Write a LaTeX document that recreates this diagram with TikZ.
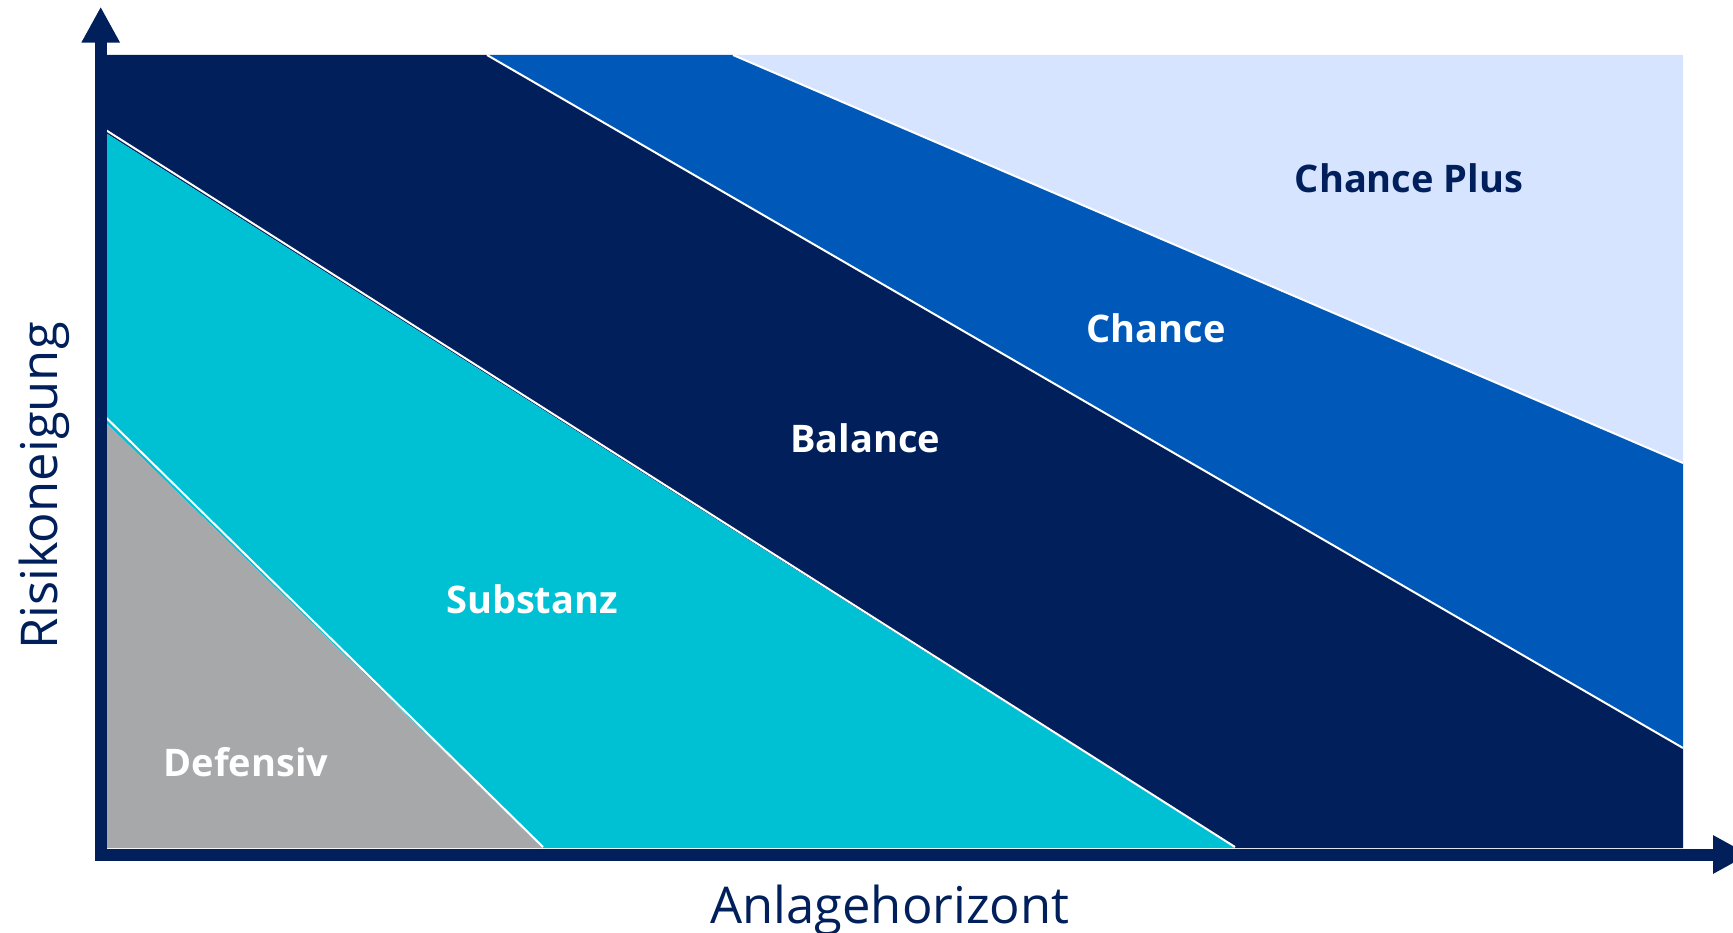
\documentclass[tikz,border=0pt]{standalone}
\usepackage{fontspec}
\setmainfont{Open Sans}
\usepackage{tikz}
\usetikzlibrary{arrows.meta}
\definecolor{navy}{RGB}{0,31,91}
\definecolor{midblue}{RGB}{0,88,184}
\definecolor{paleblue}{RGB}{214,228,255}
\definecolor{teal}{RGB}{0,193,212}
\definecolor{stone}{RGB}{167,168,170}

\begin{document}
\begin{tikzpicture}[x=1pt,y=-1pt,
    band/.style={draw=white,line width=2pt,line join=miter},
    axis/.style={navy,line width=12pt,-{Triangle[length=36pt,width=36pt]}},
    zone/.style={anchor=base,font=\fontsize{38}{40}\selectfont\bfseries,text=white},
    title/.style={font=\fontsize{50.7}{56}\selectfont,text=navy}]
      \clip (0,0) rectangle (1733,933);

      % bands, from the top right down to the corner
      \fill[paleblue] (733,55) -- (1683,55) -- (1683,463) -- cycle;
      \fill[midblue] (487,55) -- (733,55) -- (1683,463) -- (1683,748) -- cycle;
      \fill[navy] (101,55) -- (487,55) -- (1683,748) -- (1683,848) -- (1235,848) -- (101,130) -- cycle;
      \fill[teal] (101,130) -- (1235,848) -- (543,848) -- (101,418) -- cycle;
      \fill[stone] (101,418) -- (543,848) -- (101,848) -- cycle;

      \draw[band] (106.5,418) -- (543,847);
      \draw[band] (106.5,130.5) -- (1235,847);
      \draw[band] (487,55) -- (1683,748);
      \draw[band] (733,55) -- (1683,463);

      \coordinate (ybot) at (100.7,860.5);
      \coordinate (ytop) at (100.7,6.7);
      \coordinate (xleft) at (94.7,854.5);
      \coordinate (xright) at (1749,854.5);
      \draw[axis] (ybot) -- (ytop);
      \draw[axis] (xleft) -- (xright);

      \node[zone,text=navy] (plus) at (1409,193) {Chance Plus};
      \node[zone] (chance) at (1156,343) {Chance};
      \node[zone] (balance) at (865,452) {Balance};
      \node[zone] (substanz) at (532,613) {Substanz};
      \node[zone] (defensiv) at (246,776) {Defensiv};

      \node[title,anchor=base] (xlabel) at (890,923) {Anlagehorizont};
      \node[title,anchor=base,rotate=90] (ylabel) at (57,486) {Risikoneigung};
\end{tikzpicture}
\end{document}
